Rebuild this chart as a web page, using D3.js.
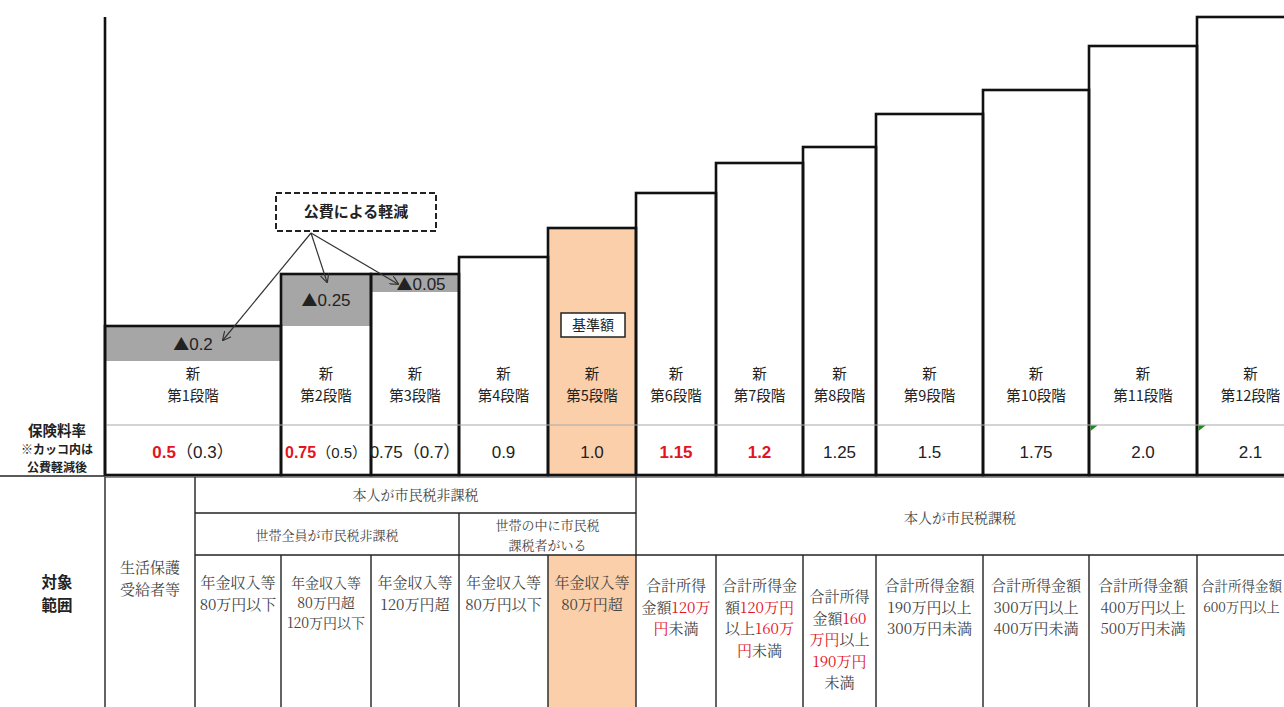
<!DOCTYPE html>
<html><head><meta charset="utf-8">
<script src="https://cdn.jsdelivr.net/npm/d3@7"></script>
<style>
html,body{margin:0;padding:0;background:#fff;}
svg{display:block;}
</style></head>
<body>
<svg id="chart" width="1284" height="707"></svg>
<script>
// ---------- DATA ----------
const stageNames = ["第1段階","第2段階","第3段階","第4段階","第5段階","第6段階","第7段階","第8段階","第9段階","第10段階","第11段階","第12段階"];
const rates = [0.5,0.75,0.75,0.9,1.0,1.15,1.2,1.25,1.5,1.75,2.0,2.1];
const rateLabels = ["0.5","0.75","0.75","0.9","1.0","1.15","1.2","1.25","1.5","1.75","2.0","2.1"];
const rateHighlighted = [true,true,false,false,false,true,true,false,false,false,false,false];
const reducedRates = [0.3,0.5,0.7,null,null,null,null,null,null,null,null,null];
const reducedLabels = ["0.3","0.5","0.7"];
const reductionLabels = ["0.2","0.25","0.05"];
const reductionMark = "▲";
const baseStageIndex = 4;
const calloutText = "公費による軽減";
const baseText = "基準額";
const rowLabelRate = ["保険料率","※カッコ内は","公費軽減後"];
const rowLabelTarget = ["対象","範囲"];
const headerNonTaxSelf = "本人が市民税非課税";
const headerNonTaxHousehold = "世帯全員が市民税非課税";
const headerTaxHousehold = ["世帯の中に市民税","課税者がいる"];
const headerTaxSelf = "本人が市民税課税";
// lower table cells (one per column); [..] marks red text
const targetCells = [
  ["生活保護","受給者等"],
  ["年金収入等","80万円以下"],
  ["年金収入等","80万円超","120万円以下"],
  ["年金収入等","120万円超"],
  ["年金収入等","80万円以下"],
  ["年金収入等","80万円超"],
  ["合計所得","金額[120万]","[円]未満"],
  ["合計所得金","額[120万円]","以上[160万]","[円]未満"],
  ["合計所得","金額[160]","[万円]以上","[190万円]","未満"],
  ["合計所得金額","190万円以上","300万円未満"],
  ["合計所得金額","300万円以上","400万円未満"],
  ["合計所得金額","400万円以上","500万円未満"],
  ["合計所得金額","600万円以上"]
];

// ---------- LAYOUT ----------
const svg = d3.select("#chart");
const W = 1284;
const colEdges = [105,195,281,371,459,548,636,716,803,876,983,1089,1197,1304];
const xCol = d3.scaleLinear().domain(d3.range(colEdges.length)).range(colEdges);
const stageSpan = i => i === 0 ? [0,2] : [i+1, i+2];

// schematic (piecewise) value scale
const yDomain = Array.from(new Set(rates.concat(reducedRates.filter(v=>v!=null)))).sort((a,b)=>a-b);
const yRange = [361,326,292,274,257,228,193,163,147,114,90,46,17];
const y = d3.scaleLinear().domain(yDomain).range(yRange);

const rateTop = 425, rateBottom = 475, tableTop = 477, row1 = 513, row2 = 555, H = 707;
const peach = "#fbcfaa", gray = "#a6a6a6", red = "#e3141f";
const sans = "'Noto Sans CJK JP','Noto Sans',sans-serif";
const num = "'Liberation Sans','Noto Sans CJK JP',sans-serif";
const tableFont = "'Noto Serif CJK JP','Noto Sans CJK JP',serif";

const defs = svg.append("defs");
defs.append("marker").attr("id","arr").attr("viewBox","0 0 10 10").attr("refX",9).attr("refY",5)
  .attr("markerWidth",9).attr("markerHeight",9).attr("orient","auto-start-reverse").attr("markerUnits","userSpaceOnUse")
  .append("path").attr("d","M0,0 L10,5 L0,10").attr("fill","none").attr("stroke","#333").attr("stroke-width",1.3);

// peach lower cell for base stage
svg.append("rect").attr("x",xCol(baseStageIndex+1)).attr("y",row2)
  .attr("width",xCol(baseStageIndex+2)-xCol(baseStageIndex+1)).attr("height",H-row2).attr("fill",peach);

// bars
const bars = svg.append("g");
rates.forEach((v,i)=>{
  const [a,b] = stageSpan(i);
  const x0 = xCol(a), x1 = xCol(b);
  bars.append("rect").attr("x",x0).attr("y",y(v)).attr("width",x1-x0).attr("height",rateBottom-y(v))
    .attr("fill", i===baseStageIndex ? peach : "#fff");
  if(reducedRates[i]!=null){
    bars.append("rect").attr("x",x0).attr("y",y(v)).attr("width",x1-x0).attr("height",y(reducedRates[i])-y(v))
      .attr("fill",gray);
  }
});
svg.append("line").attr("x1",105).attr("x2",W).attr("y1",rateTop).attr("y2",rateTop)
  .attr("stroke","#aaa").attr("stroke-width",1.2);
rates.forEach((v,i)=>{
  const [a,b] = stageSpan(i);
  const x0 = xCol(a), x1 = xCol(b);
  bars.append("rect").attr("x",x0).attr("y",y(v)).attr("width",x1-x0).attr("height",rateBottom-y(v))
    .attr("fill","none").attr("stroke","#111").attr("stroke-width",2.6);
});
svg.append("line").attr("x1",105).attr("x2",105).attr("y1",17).attr("y2",rateBottom).attr("stroke","#111").attr("stroke-width",2.6);

// reduction labels
rates.forEach((v,i)=>{
  if(reducedRates[i]==null) return;
  const [a,b] = stageSpan(i);
  const cx = (xCol(a)+xCol(b))/2 + (i===2?6:0);
  const cy = (y(v)+y(reducedRates[i]))/2 + (i===2?1:0);
  const t = svg.append("text").attr("x",cx).attr("y",cy).attr("dy","0.36em").attr("text-anchor","middle")
    .attr("font-family",num).attr("font-size",17).attr("fill","#222");
  t.append("tspan").attr("font-family","'Noto Sans CJK JP',sans-serif").attr("font-size",16).text(reductionMark);
  t.append("tspan").text(reductionLabels[i]);
});

// stage labels
stageNames.forEach((n,i)=>{
  const [a,b] = stageSpan(i);
  const cx = (xCol(a)+xCol(b))/2;
  const t = svg.append("text").attr("text-anchor","middle").attr("font-family",sans).attr("font-size",14.5).attr("fill","#222");
  t.append("tspan").attr("x",cx).attr("y",379).text("新");
  t.append("tspan").attr("x",cx).attr("y",401).text(n);
});

// rate labels
rates.forEach((v,i)=>{
  const [a,b] = stageSpan(i);
  const cx = (xCol(a)+xCol(b))/2;
  const t = svg.append("text").attr("x",cx).attr("y",458).attr("text-anchor","middle")
    .attr("font-family",num).attr("font-size",17);
  t.append("tspan").attr("fill",rateHighlighted[i]?red:"#222").attr("font-weight",rateHighlighted[i]?"bold":"normal")
    .attr("font-size", i===1?16:17).text(rateLabels[i]);
  if(reducedRates[i]!=null){
    t.append("tspan").attr("fill","#222").attr("font-size", i===1?15:17).text("（"+reducedLabels[i]+"）");
  }
});
// green error markers
[10,11].forEach(i=>{
  const x0 = xCol(stageSpan(i)[0])+1.5;
  svg.append("path").attr("d",`M${x0},${rateTop+0.5} L${x0+7},${rateTop+0.5} L${x0},${rateTop+6}`).attr("fill","#1e8a1e");
});

// base label box
{
  const [a,b] = stageSpan(baseStageIndex);
  const cx = (xCol(a)+xCol(b))/2;
  svg.append("rect").attr("x",cx-31).attr("y",313).attr("width",64).attr("height",24).attr("fill","#fff").attr("stroke","#222").attr("stroke-width",1.5);
  svg.append("text").attr("x",cx+1).attr("y",325).attr("dy","0.36em").attr("text-anchor","middle")
    .attr("font-family",sans).attr("font-size",14).attr("fill","#222").text(baseText);
}

// callout
svg.append("rect").attr("x",276).attr("y",193).attr("width",160).attr("height",38).attr("fill","#fff")
  .attr("stroke","#222").attr("stroke-width",2).attr("stroke-dasharray","6,3");
svg.append("text").attr("x",356).attr("y",212).attr("dy","0.36em").attr("text-anchor","middle")
  .attr("font-family",sans).attr("font-size",15).attr("font-weight","bold").attr("fill","#222").text(calloutText);
const origin = [311,233];
const targets = [[223,340],[327,282],[398,284]];
targets.forEach(p=>{
  svg.append("line").attr("x1",origin[0]).attr("y1",origin[1]).attr("x2",p[0]).attr("y2",p[1])
    .attr("stroke","#333").attr("stroke-width",1.2).attr("marker-end","url(#arr)");
});

// left row labels
{
  const lab = (txt,yy,fs)=>svg.append("text").attr("x",57).attr("y",yy).attr("text-anchor","middle")
    .attr("font-family",sans).attr("fill","#222").attr("font-weight","bold").attr("font-size",fs).text(txt);
  lab(rowLabelRate[0],436,14.5);
  lab(rowLabelRate[1],454,12);
  lab(rowLabelRate[2],471.5,12);
  lab(rowLabelTarget[0],588,15.5);
  lab(rowLabelTarget[1],611,15.5);
}

// lower table lines
const lineG = svg.append("g").attr("stroke","#222").attr("stroke-width",1.4);
lineG.append("line").attr("x1",0).attr("x2",105).attr("y1",rateBottom+1).attr("y2",rateBottom+1).attr("stroke-width",1.6);
lineG.append("line").attr("x1",105).attr("x2",W).attr("y1",tableTop).attr("y2",tableTop).attr("stroke-width",1.2);
[0,1,6].forEach(c=>lineG.append("line").attr("x1",xCol(c)).attr("x2",xCol(c)).attr("y1",tableTop).attr("y2",H));
[4].forEach(c=>lineG.append("line").attr("x1",xCol(c)).attr("x2",xCol(c)).attr("y1",row1).attr("y2",H));
[2,3,5,7,8,9,10,11,12].forEach(c=>lineG.append("line").attr("x1",xCol(c)).attr("x2",xCol(c)).attr("y1",row2).attr("y2",H));
lineG.append("line").attr("x1",xCol(1)).attr("x2",xCol(6)).attr("y1",row1).attr("y2",row1);
lineG.append("line").attr("x1",xCol(1)).attr("x2",W).attr("y1",row2).attr("y2",row2);

// header texts
const hdr = (txt,x,yy,size)=>svg.append("text").attr("x",x).attr("y",yy).attr("dy","0.36em").attr("text-anchor","middle")
  .attr("font-family",tableFont).attr("font-size",size).attr("fill","#444").text(txt);
hdr(headerNonTaxSelf,(xCol(1)+xCol(6))/2,495,14);
hdr(headerNonTaxHousehold,(xCol(1)+xCol(4))/2,535,13);
hdr(headerTaxHousehold[0],(xCol(4)+xCol(6))/2,525,13);
hdr(headerTaxHousehold[1],(xCol(4)+xCol(6))/2,545,13);
hdr(headerTaxSelf,(xCol(6)+W)/2,518,14);

// target cells
targetCells.forEach((lines,c)=>{
  const last = c === targetCells.length-1;
  const cx = last ? (xCol(c)+W)/2 + 1 : (xCol(c)+xCol(c+1))/2;
  const y0 = c===0 ? 568 : (c<=5 ? 583 : (lines.length>=5 ? 597 : 586));
  const lh = c===2 ? 20 : 21.5;
  const fs = c===2 ? 14 : (last ? 13.5 : 15);
  lines.forEach((ln,k)=>{
    const t = svg.append("text").attr("x",cx).attr("y",y0+k*lh).attr("dy","0.36em").attr("text-anchor","middle")
      .attr("font-family",tableFont).attr("font-size", fs).attr("fill","#444");
    ln.split(/(\[[^\]]*\])/).filter(s=>s.length).forEach(seg=>{
      const isRed = seg.startsWith("[");
      t.append("tspan").attr("fill",isRed?red:"#444").text(isRed?seg.slice(1,-1):seg);
    });
  });
});
</script>
</body></html>
